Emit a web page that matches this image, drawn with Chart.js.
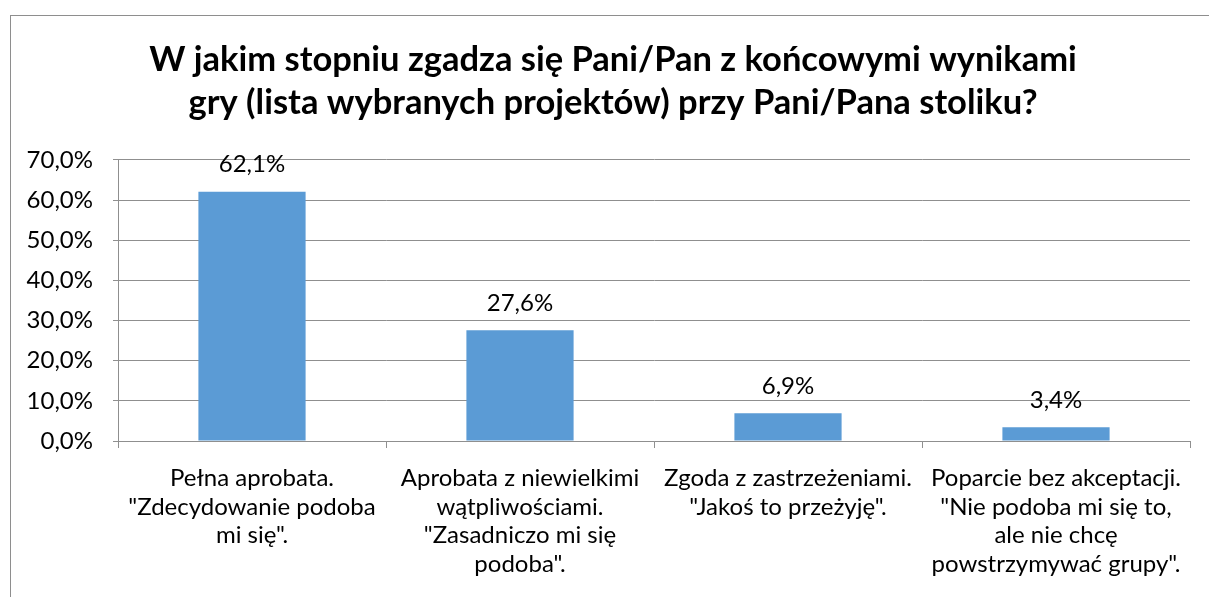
<!DOCTYPE html>
<html>
<head>
<meta charset="utf-8">
<script src="https://cdn.jsdelivr.net/npm/chart.js@4.4.1/dist/chart.umd.min.js"></script>
<style>
  html, body { margin: 0; padding: 0; background: #fff; overflow: hidden; }
  #wrap { position: relative; width: 1209px; height: 597px; overflow: hidden; }
  #frame { position: absolute; left: 10px; top: 15px; width: 1400px; height: 800px; border: 1px solid #8e8e8e; box-sizing: border-box; }
  canvas { position: absolute; left: 0; top: 0; }
</style>
</head>
<body>
<div id="wrap">
  <div id="frame"></div>
  <canvas id="c" width="1240" height="597"></canvas>
</div>
<script>
const titleLines = [
  "W jakim stopniu zgadza się Pani/Pan z końcowymi wynikami",
  "gry (lista wybranych projektów) przy Pani/Pana stoliku?"
];
const categories = [
  ["Pełna aprobata.", "\"Zdecydowanie podoba", "mi się\"."],
  ["Aprobata z niewielkimi", "wątpliwościami.", "\"Zasadniczo mi się", "podoba\"."],
  ["Zgoda z zastrzeżeniami.", "\"Jakoś to przeżyję\"."],
  ["Poparcie bez akceptacji.", "\"Nie podoba mi się to,", "ale nie chcę", "powstrzymywać grupy\"."]
];
const values = [62.1, 27.6, 6.9, 3.4];
const yTicks = [0, 10, 20, 30, 40, 50, 60, 70];

const fmt = v => v.toFixed(1).replace('.', ',') + '%';

const valueLabels = {
  id: 'valueLabels',
  afterDatasetsDraw(chart) {
    const ctx = chart.ctx;
    const meta = chart.getDatasetMeta(0);
    ctx.save();
    ctx.font = '24px Lato';
    ctx.fillStyle = '#000';
    ctx.textAlign = 'center';
    ctx.textBaseline = 'bottom';
    meta.data.forEach((bar, i) => {
      ctx.fillText(fmt(values[i]), bar.x, bar.y - 15);
    });
    ctx.restore();
  }
};

new Chart(document.getElementById('c'), {
  type: 'bar',
  data: {
    labels: categories,
    datasets: [{
      data: values,
      backgroundColor: '#5B9BD5',
      borderWidth: 0,
      categoryPercentage: 1.0,
      barPercentage: 0.4
    }]
  },
  options: {
    responsive: false,
    animation: false,
    layout: { padding: { left: 10, right: 24, top: 0, bottom: 0 } },
    plugins: {
      legend: { display: false },
      tooltip: { enabled: false },
      title: {
        display: true,
        text: titleLines,
        color: '#000',
        font: { family: 'Lato', size: 34.5, weight: 'bold', lineHeight: 1.26 },
        padding: { top: 38, bottom: 35 }
      }
    },
    scales: {
      x: {
        offset: true,
        afterFit(scale) { scale.height = 156; },
        grid: { display: true, offset: true, drawOnChartArea: false, drawTicks: true, tickLength: 7, color: '#8f8f8f' },
        border: { display: true, color: '#8f8f8f' },
        ticks: {
          color: '#000',
          font: { family: 'Lato', size: 24, lineHeight: 1.19 },
          padding: 16,
          maxRotation: 0,
          autoSkip: false
        }
      },
      y: {
        min: 0,
        max: 70,
        afterFit(scale) { scale.width = 108; },
        afterBuildTicks(scale) { scale.ticks = yTicks.map(v => ({ value: v })); },
        grid: { color: '#8f8f8f', tickLength: 5, drawTicks: true },
        border: { display: true, color: '#8f8f8f' },
        ticks: {
          color: '#000',
          font: { family: 'Lato', size: 24 },
          padding: 20,
          callback: v => fmt(v)
        }
      },
      yRight: {
        position: 'right',
        display: true,
        afterFit(scale) { scale.width = 26; },
        grid: { display: false, drawTicks: false },
        border: { display: false },
        ticks: { display: false }
      }
    }
  },
  plugins: [valueLabels]
});
</script>
</body>
</html>
